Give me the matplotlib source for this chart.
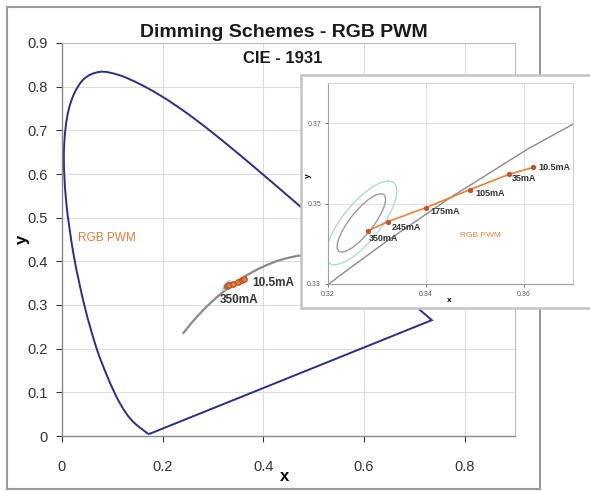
import numpy as np
import matplotlib
matplotlib.use("Agg")
import matplotlib.pyplot as plt
from matplotlib.patches import Rectangle, Ellipse, PathPatch
from matplotlib.path import Path

plt.rcParams['font.family'] = ['Liberation Sans', 'DejaVu Sans']

# CIE 1931 spectral locus (380-700 nm, 5 nm steps)
locus_x = [0.1741, 0.1740, 0.1738, 0.1736, 0.1733, 0.1730, 0.1726, 0.1721, 0.1714, 0.1703,
           0.1689, 0.1669, 0.1644, 0.1611, 0.1566, 0.1510, 0.1440, 0.1355, 0.1241, 0.1096,
           0.0913, 0.0687, 0.0454, 0.0235, 0.0082, 0.0039, 0.0139, 0.0389, 0.0743, 0.1142,
           0.1547, 0.1929, 0.2296, 0.2658, 0.3016, 0.3373, 0.3731, 0.4087, 0.4441, 0.4788,
           0.5125, 0.5448, 0.5752, 0.6029, 0.6270, 0.6482, 0.6658, 0.6801, 0.6915, 0.7006,
           0.7079, 0.7140, 0.7190, 0.7230, 0.7260, 0.7283, 0.7300, 0.7311, 0.7320, 0.7327,
           0.7334, 0.7340, 0.7344, 0.7346, 0.7347]
locus_y = [0.0050, 0.0050, 0.0049, 0.0049, 0.0048, 0.0048, 0.0048, 0.0048, 0.0051, 0.0058,
           0.0069, 0.0086, 0.0109, 0.0138, 0.0177, 0.0227, 0.0297, 0.0399, 0.0578, 0.0868,
           0.1327, 0.2007, 0.2950, 0.4127, 0.5384, 0.6548, 0.7502, 0.8120, 0.8338, 0.8262,
           0.8059, 0.7816, 0.7543, 0.7243, 0.6923, 0.6589, 0.6245, 0.5896, 0.5547, 0.5202,
           0.4866, 0.4544, 0.4242, 0.3965, 0.3725, 0.3514, 0.3340, 0.3197, 0.3083, 0.2993,
           0.2920, 0.2859, 0.2809, 0.2770, 0.2740, 0.2717, 0.2700, 0.2689, 0.2680, 0.2673,
           0.2666, 0.2660, 0.2656, 0.2654, 0.2653]

# Planckian locus (infinity ... 1000 K)
planck_x = [0.2399, 0.2565, 0.2637, 0.2718, 0.2807, 0.2869, 0.2952, 0.3064, 0.3135, 0.3221,
            0.3325, 0.3451, 0.3608, 0.3805, 0.4053, 0.4369, 0.4770, 0.5267, 0.5857, 0.6528]
planck_y = [0.2342, 0.2577, 0.2674, 0.2776, 0.2884, 0.2956, 0.3048, 0.3166, 0.3237, 0.3318,
            0.3411, 0.3516, 0.3636, 0.3768, 0.3907, 0.4041, 0.4137, 0.4133, 0.3931, 0.3444]

# RGB PWM dimming points
currents = ["350mA", "245mA", "175mA", "105mA", "35mA", "10.5mA"]
pwm_x = [0.3281, 0.3322, 0.3400, 0.3490, 0.3570, 0.3619]
pwm_y = [0.3432, 0.3455, 0.3490, 0.3535, 0.3573, 0.3590]

# MacAdam-type ellipses: center x, center y, width, height, angle
ell_cx = [0.3268, 0.3268]
ell_cy = [0.3452, 0.3452]
ell_w = [0.0168, 0.0240]
ell_h = [0.0050, 0.0082]
ell_ang = [58.0, 58.0]
ell_col = ['#9a9a9a', '#a9ddd3']

main_xticks = [0, 0.2, 0.4, 0.6, 0.8]
main_yticks = [0, 0.1, 0.2, 0.3, 0.4, 0.5, 0.6, 0.7, 0.8, 0.9]
inset_xticks = [0.32, 0.34, 0.36]
inset_yticks = [0.33, 0.35, 0.37]

W, H = 590, 491
fig = plt.figure(figsize=(W / 100, H / 100), dpi=100)


def fr(x0, y0, x1, y1):
    return [x0 / W, 1 - y1 / H, (x1 - x0) / W, (y1 - y0) / H]


def smooth_path(xs, ys, close_straight=False):
    # Catmull-Rom style smoothed line (like a spreadsheet "smoothed line") rendered as Bezier curves
    P = np.column_stack([xs, ys])
    n = len(P)
    verts = [P[0]]
    codes = [Path.MOVETO]
    for i in range(n - 1):
        p0 = P[i - 1] if i > 0 else P[i]
        p1, p2 = P[i], P[i + 1]
        p3 = P[i + 2] if i + 2 < n else P[i + 1]
        c1 = p1 + (p2 - p0) / 6.0
        c2 = p2 - (p3 - p1) / 6.0
        verts += [c1, c2, p2]
        codes += [Path.CURVE4] * 3
    if close_straight:
        verts.append(P[0])
        codes.append(Path.LINETO)
    return Path(verts, codes)


# outer frame of the main chart
fig.patches.append(Rectangle((7 / W, 1 - 489 / H), 533 / W, 482 / H, transform=fig.transFigure,
                             fill=False, edgecolor='#9a9a9a', lw=1.5, zorder=-1))

ax = fig.add_axes(fr(62, 43, 515, 436))
ax.set_xlim(0, 0.9)
ax.set_ylim(0, 0.9)
ax.set_xticks(main_xticks)
ax.set_xticklabels(['0' if v == 0 else f'{v:.1f}' for v in main_xticks])
ax.set_yticks(main_yticks)
ax.set_yticklabels(['0' if v == 0 else f'{v:.1f}' for v in main_yticks])
ax.tick_params(labelsize=10.5, colors='#333333', direction='out', length=4, width=0.8)
ax.tick_params(axis='x', pad=13)
ax.tick_params(axis='y', pad=6)
for t in ax.get_xticklines() + ax.get_yticklines():
    t.set_color('#888888')
ax.grid(True, color='#dcdcdc', lw=0.8)
ax.set_axisbelow(True)
for s in ['left', 'bottom']:
    ax.spines[s].set_color('#888888')
    ax.spines[s].set_linewidth(1.0)
for s in ['top', 'right']:
    ax.spines[s].set_color('#bbbbbb')
    ax.spines[s].set_linewidth(0.8)

ax.add_patch(PathPatch(smooth_path(locus_x, locus_y, close_straight=True), fill=False,
                       edgecolor='#2e2d84', lw=1.4))
ax.add_patch(PathPatch(smooth_path(planck_x, planck_y), fill=False, edgecolor='#8a8a8a', lw=1.6))
for cx, cy, w, h, a, c in zip(ell_cx, ell_cy, ell_w, ell_h, ell_ang, ell_col):
    ax.add_patch(Ellipse((cx, cy), w, h, angle=a, fill=False, edgecolor=c, lw=1.0))
ax.plot(pwm_x, pwm_y, color='#e8823a', lw=1.5, marker='o', ms=4,
        markerfacecolor='#e8823a', markeredgecolor='#b5461e', markeredgewidth=0.8)
ax.annotate(currents[-1], (pwm_x[-1], pwm_y[-1]), xytext=(8, -4), textcoords='offset pixels',
            fontsize=8.5, fontweight='bold', color='#333333', va='center', ha='left')
ax.annotate(currents[0], (pwm_x[0], pwm_y[0]), xytext=(-7, -14), textcoords='offset pixels',
            fontsize=8.5, fontweight='bold', color='#333333', va='center', ha='left')
ax.text(0.032, 0.454, 'RGB PWM', color='#e07b39', fontsize=8.5, va='center', ha='left')
ax.set_xlabel('x', fontsize=12, fontweight='bold', va='center')
ax.set_ylabel('y', fontsize=12, fontweight='bold', va='center')
ax.xaxis.set_label_coords(0.492, -0.102)
ax.yaxis.set_label_coords(-0.088, 0.5)

fig.text(284 / W, 1 - 32.5 / H, 'Dimming Schemes - RGB PWM', fontsize=14, fontweight='bold',
         ha='center', va='center', color='#1a1a1a')
fig.text(283 / W, 1 - 58.5 / H, 'CIE - 1931', fontsize=12, fontweight='bold',
         ha='center', va='center', color='#1a1a1a')

# inset frame
fig.patches.append(Rectangle((301 / W, 1 - 308 / H), 290 / W, 233 / H, transform=fig.transFigure,
                             facecolor='white', edgecolor='#c4c4c4', lw=1.8, zorder=1))

ia = fig.add_axes(fr(328, 83, 573, 284))
ia.set_zorder(2)
ia.set_xlim(0.32, 0.37)
ia.set_ylim(0.33, 0.38)
ia.set_xticks(inset_xticks)
ia.set_xticklabels([f'{v:.2f}' for v in inset_xticks])
ia.set_yticks(inset_yticks)
ia.set_yticklabels([f'{v:.2f}' for v in inset_yticks])
ia.tick_params(labelsize=5, colors='#555555', length=2, width=0.6, pad=3)
ia.grid(True, color='#dedede', lw=0.7)
ia.set_axisbelow(True)
for s in ['left', 'bottom']:
    ia.spines[s].set_color('#a0a0a0')
    ia.spines[s].set_linewidth(0.8)
for s in ['top', 'right']:
    ia.spines[s].set_color('#d0d0d0')
    ia.spines[s].set_linewidth(0.8)
ia.plot(planck_x, planck_y, color='#8a8a8a', lw=1.0)
for cx, cy, w, h, a, c in zip(ell_cx, ell_cy, ell_w, ell_h, ell_ang, ell_col):
    ia.add_patch(Ellipse((cx, cy), w, h, angle=a, fill=False, edgecolor=c, lw=1.0))
ia.plot(pwm_x, pwm_y, color='#e8823a', lw=1.2, marker='o', ms=2.8,
        markerfacecolor='#c9512a', markeredgecolor='#c9512a')
offsets = [(1, -8), (4, -6), (4, -4), (5, -4), (3, -4), (5, 0)]
for lab, x, y, off in zip(currents, pwm_x, pwm_y, offsets):
    ia.annotate(lab, (x, y), xytext=off, textcoords='offset pixels', fontsize=6.5,
                fontweight='bold', color='#333333', va='center', ha='left')
ia.text(0.3470, 0.3420, 'RGB PWM', color='#e8823a', fontsize=6, va='center', ha='left')
ia.set_xlabel('x', fontsize=6, fontweight='bold', va='center')
ia.set_ylabel('y', fontsize=6, fontweight='bold', va='center')
ia.xaxis.set_label_coords((449 - 328) / 245, -(300 - 284) / 201)
ia.yaxis.set_label_coords(-(328 - 308) / 245, (284 - 176) / 201)

fig.savefig('out.png', dpi=100)
